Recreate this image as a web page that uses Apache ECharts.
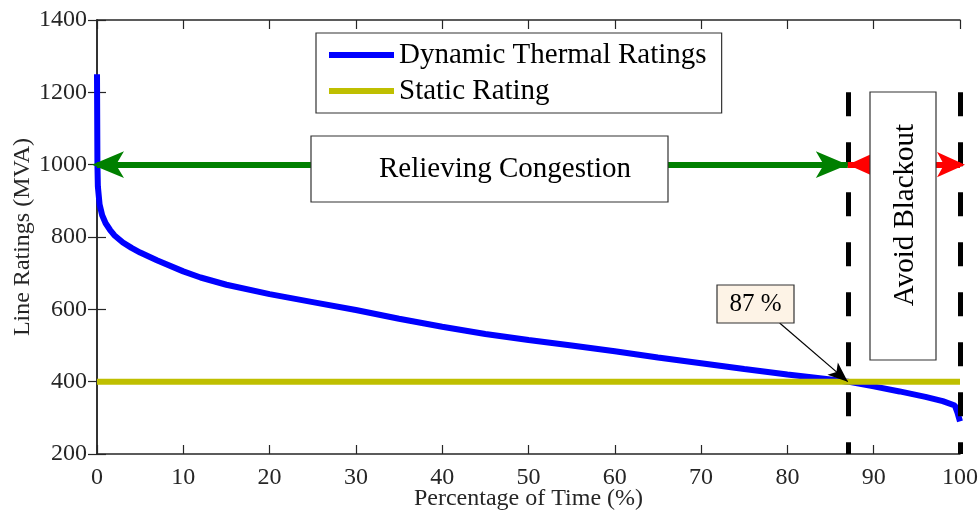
<!DOCTYPE html>
<html>
<head>
<meta charset="utf-8">
<script src="https://cdn.jsdelivr.net/npm/echarts@6/dist/echarts.min.js"></script>
<style>
  html, body { margin: 0; padding: 0; background: #fff; }
  #chart { width: 979px; height: 512px; }
</style>
</head>
<body>
<div id="chart"></div>
<script>
// duration curve of the dynamic rating (percentage of time -> MVA)
const pctTime = [0, 0.05, 0.1, 0.3, 0.6, 1, 1.5, 2, 3, 4, 5, 7, 10, 12, 15, 20, 25, 30, 35, 40, 45, 50, 55, 60, 65, 70, 75, 80, 85, 87, 90, 93, 96, 98, 99.4, 99.7, 100]
const dtrValues = [1250, 1000, 940, 890, 860, 838, 820, 805, 785, 770, 757, 735, 705, 688, 668, 642, 620, 598, 574, 552, 532, 515, 500, 484, 467, 451, 435, 420, 406, 400, 387, 373, 358, 346, 334, 315, 290]
const staticX = [0, 100]
const staticY = [400, 400]
const seriesNames = ['Dynamic Thermal Ratings', 'Static Rating']
const crossPoint = [87, 400]
const labelFrom = [79.1, 562]
const limitX = [87, 100]
const limitY = [1200, 200]
const arrowY = 1000

const font = "'Liberation Serif', 'Times New Roman', serif"
const axisColor = '#262626'

const chart = echarts.init(document.getElementById('chart'))

const pairs = (xs, ys) => xs.map((x, i) => [x, ys[i]])

const baseX = {
  type: 'value', min: 0, max: 100, interval: 10,
  axisLine: { show: true, lineStyle: { color: axisColor, width: 1.5 } },
  axisTick: { show: true, inside: true, length: 9, lineStyle: { color: axisColor, width: 1.2 } },
  splitLine: { show: false },
}
const baseY = {
  type: 'value', min: 200, max: 1400, interval: 200,
  axisLine: { show: true, lineStyle: { color: axisColor, width: 1.5 } },
  axisTick: { show: true, inside: true, length: 9, lineStyle: { color: axisColor, width: 1.2 } },
  splitLine: { show: false },
}

const noLabel = { show: false }

const option = {
  animation: false,
  textStyle: { fontFamily: font },
  grid: { left: 97, right: 19, top: 20, bottom: 58, outerBoundsMode: 'none', containLabel: false },
  legend: {
    data: seriesNames,
    orient: 'vertical',
    left: 316,
    top: 33,
    icon: 'rect',
    itemWidth: 65,
    itemHeight: 6,
    itemGap: 6,
    padding: [7, 15, 7, 13],
    backgroundColor: '#fff',
    borderColor: '#333',
    borderWidth: 1.2,
    textStyle: { fontFamily: font, fontSize: 29, color: '#000', lineHeight: 30 },
  },
  xAxis: [
    Object.assign({}, baseX, {
      position: 'bottom',
      axisLabel: { fontFamily: font, fontSize: 24, color: axisColor, margin: 12, formatter: v => String(v) },
      name: 'Percentage of Time (%)',
      nameLocation: 'middle',
      nameGap: 33,
      nameMoveOverlap: false,
      nameTextStyle: { fontFamily: font, fontSize: 24, color: axisColor },
    }),
    Object.assign({}, baseX, { position: 'top', axisLabel: noLabel }),
  ],
  yAxis: [
    Object.assign({}, baseY, {
      position: 'left',
      axisLabel: { fontFamily: font, fontSize: 24, color: axisColor, margin: 10, formatter: v => String(v) },
      name: 'Line Ratings (MVA)',
      nameLocation: 'middle',
      nameGap: 62,
      nameMoveOverlap: false,
      nameTextStyle: { fontFamily: font, fontSize: 24, color: axisColor },
    }),
    Object.assign({}, baseY, { position: 'right', axisLabel: noLabel }),
  ],
  series: [
    {
      name: seriesNames[0],
      type: 'line',
      z: 2,
      data: pairs(pctTime, dtrValues),
      showSymbol: false,
      symbol: 'none',
      color: '#0000ff',
      lineStyle: { color: '#0000ff', width: 6 },
    },
    {
      name: seriesNames[1],
      type: 'line',
      z: 3,
      data: pairs(staticX, staticY),
      showSymbol: false,
      symbol: 'none',
      color: '#bfbf00',
      lineStyle: { color: '#bfbf00', width: 6 },
    },
    {
      // dashed limits at 87 % and 100 %
      name: 'limits',
      type: 'line',
      z: 4,
      data: [],
      clip: false,
      markLine: {
        silent: true,
        symbol: 'none',
        label: { show: false },
        lineStyle: { color: '#000', width: 5, type: [24, 26], cap: 'butt' },
        data: limitX.map(x => [{ coord: [x, limitY[0]] }, { coord: [x, limitY[1]] }]),
      },
    },
    {
      name: 'congestion',
      type: 'line',
      z: 5,
      data: [],
      clip: false,
      markLine: {
        silent: true,
        symbol: ['arrow', 'arrow'],
        symbolSize: [20, 32],
        symbolOffset: [[0, -5], [0, 0]],
        label: { show: false },
        lineStyle: { color: '#008000', width: 6, type: 'solid' },
        data: [[{ coord: [0, arrowY] }, { coord: [limitX[0], arrowY] }]],
      },
    },
    {
      name: 'blackout',
      type: 'line',
      z: 5,
      data: [],
      clip: false,
      markLine: {
        silent: true,
        symbol: ['arrow', 'arrow'],
        symbolSize: [19, 28],
        symbolOffset: [[0, 0], [0, -5]],
        label: { show: false },
        lineStyle: { color: '#ff0000', width: 6, type: 'solid' },
        data: [[{ coord: [limitX[0], arrowY] }, { coord: [limitX[1], arrowY] }]],
      },
    },
    {
      name: 'crossing',
      type: 'line',
      z: 6,
      data: [],
      clip: false,
      markLine: {
        silent: true,
        symbol: ['none', 'arrow'],
        symbolSize: [12, 20],
        label: { show: false },
        lineStyle: { color: '#000', width: 1.2, type: 'solid' },
        data: [[{ coord: labelFrom }, { coord: crossPoint }]],
      },
    },
  ],
  graphic: [
    {
      type: 'rect', z: 100,
      shape: { x: 311, y: 136, width: 357, height: 66 },
      style: { fill: '#fff', stroke: '#333', lineWidth: 1.2 },
    },
    {
      type: 'text', z: 101, x: 505, y: 169,
      style: { text: 'Relieving Congestion', font: '29px ' + font, fill: '#000', align: 'center', verticalAlign: 'middle' },
    },
    {
      type: 'rect', z: 100,
      shape: { x: 870, y: 92, width: 66, height: 268 },
      style: { fill: '#fff', stroke: '#333', lineWidth: 1.2 },
    },
    {
      type: 'text', z: 101, x: 905, y: 215, rotation: Math.PI / 2,
      style: { text: 'Avoid Blackout', font: '29px ' + font, fill: '#000', align: 'center', verticalAlign: 'middle' },
    },
    {
      type: 'rect', z: 100,
      shape: { x: 717, y: 285, width: 77, height: 38 },
      style: { fill: '#fdf3e6', stroke: '#333', lineWidth: 1.2 },
    },
    {
      type: 'text', z: 101, x: 755.5, y: 304,
      style: { text: '87 %', font: '25px ' + font, fill: '#000', align: 'center', verticalAlign: 'middle' },
    },
  ],
}

chart.setOption(option)

window.addEventListener('resize', () => {
  chart.resize()
})
</script>
</body>
</html>
